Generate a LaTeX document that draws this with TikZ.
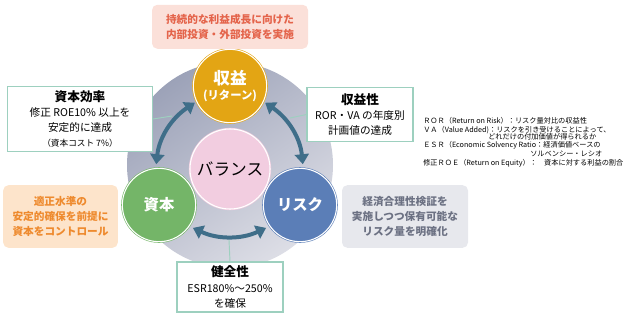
\documentclass[tikz,border=0pt]{standalone}
\usepackage{fontspec}
\setmainfont{Noto Sans CJK JP}
\usetikzlibrary{arrows.meta,positioning}
\definecolor{diskdark}{HTML}{9CA2B8}
\definecolor{disklight}{HTML}{DDDEE6}
\definecolor{retgold}{HTML}{E3A514}
\definecolor{capgreen}{HTML}{74B568}
\definecolor{riskblue}{HTML}{5B7EB7}
\definecolor{balpink}{HTML}{F2CDE0}
\definecolor{cyclecol}{HTML}{3F6E89}
\definecolor{mint}{HTML}{9DD0BF}
\definecolor{salmonbg}{HTML}{FBE0D9}
\definecolor{salmontx}{HTML}{E4644B}
\definecolor{orangebg}{HTML}{FDE4CB}
\definecolor{orangetx}{HTML}{EE8A2E}
\definecolor{graybg}{HTML}{E7E8ED}
\definecolor{graytx}{HTML}{6C7183}
\tikzset{
    ring/.style={
        circle,
        fill=#1,
        draw=#1,
        double=white,
        double distance=0.8pt,
        line width=0.45pt,
        minimum size=55pt,
        inner sep=0pt,
        align=center,
        text=white,
        font=\bfseries
    },
    goalbox/.style={
        rectangle,
        draw=mint,
        fill=white,
        line width=0.8pt,
        align=center,
        inner sep=0pt,
        font=\fontsize{8}{11.3}\selectfont
    },
    policybox/.style={
        rectangle,
        rounded corners=4pt,
        fill=#1bg,
        text=#1tx,
        align=center,
        inner sep=0pt,
        font=\bfseries\fontsize{8}{11.3}\selectfont
    },
    cyclearrow/.style={
        draw=cyclecol,
        line width=3pt,
        {Triangle[width=10.5pt,length=7.5pt]}-{Triangle[width=10.5pt,length=7.5pt]}
    },
    leader/.style={draw=mint, line width=0.7pt},
    notetext/.style={anchor=west, inner sep=0pt, font=\fontsize{5.4}{6}\selectfont}
}
\begin{document}
\begin{tikzpicture}[x=0.75pt, y=0.75pt]
    \useasboundingbox (0,0) rectangle (631,319);
    % background disk
    \shade[shading=axis, top color=diskdark, bottom color=disklight, shading angle=35] (230,154) circle[radius=103];

    % the four circles
    \node (ret) [ring=retgold] at (230,233) {{\fontsize{12.5}{14}\selectfont 収益}\\[-1pt]{\fontsize{8.5}{10}\selectfont (リターン)}};
    \node (cap) [ring=capgreen] at (159,114) {\fontsize{11.5}{13}\selectfont 資本};
    \node (risk) [ring=riskblue] at (300,114) {\fontsize{11.5}{13}\selectfont リスク};
    \node (bal) [ring=balpink, minimum size=60pt, text=black, font=\mdseries\fontsize{12.5}{14}\selectfont] at (230,150) {バランス};

    % policies and targets
    \node (growth) [policybox=salmon, minimum width=117pt, minimum height=33pt, above=0pt of ret] {持続的な利益成長に向けた\\内部投資・外部投資を実施};
    \node (eff) [goalbox, minimum width=109pt, minimum height=49pt] at (80,200) {{\bfseries\fontsize{9.5}{12}\selectfont 資本効率}\\修正 ROE10\% 以上を\\安定的に達成\\{\fontsize{6.5}{9}\selectfont （資本コスト 7\%）}};
    \node (prf) [goalbox, minimum width=79.5pt, minimum height=41pt] at (360,204.5) {{\bfseries\fontsize{9.5}{12}\selectfont 収益性}\\ROR・VA の年度別\\計画値の達成};
    \node (ctrl) [policybox=orange, minimum width=86pt, minimum height=47pt] at (60.5,102.5) {適正水準の\\安定的確保を前提に\\資本をコントロール};
    \node (snd) [goalbox, minimum width=79.5pt, minimum height=37.5pt] at (230,32) {{\bfseries\fontsize{9.5}{12}\selectfont 健全性}\\ESR180\%～250\%\\を確保};
    \node (econ) [policybox=gray, minimum width=94.5pt, minimum height=47pt] at (405,102.5) {経済合理性検証を\\実施しつつ保有可能な\\リスク量を明確化};

    % leader lines
    \coordinate (effend) at (172,203);
    \coordinate (prfend) at (290,201);
    \coordinate (sndend) at (229,79);
    \draw [leader] (eff.east) -- (effend);
    \draw [leader] (prf.west) -- (prfend);
    \draw [leader] (snd.north) -- (sndend);

    % cycle arrows
    \draw [cyclearrow, shorten <=1.5pt, shorten >=3pt] (ret.205) to[bend right=25] (cap.95);
    \draw [cyclearrow, shorten <=1.5pt, shorten >=3pt] (ret.335) to[bend left=25] (risk.85);
    \draw [cyclearrow, shorten <=3pt, shorten >=3pt] (cap.325) to[bend right=25] (risk.215);

    % notes
    \node (n1) [notetext] at (423,198) {ＲＯＲ（Return on Risk）：リスク量対比の収益性};
    \node (n2) [notetext] at (423,189) {ＶＡ（Value Added)：リスクを引き受けることによって、};
    \node (n3) [notetext] at (488,182) {どれだけの付加価値が得られるか};
    \node (n4) [notetext] at (423,174) {ＥＳＲ（Economic Solvency Ratio：経済価値ベースの};
    \node (n5) [notetext] at (530,165) {ソルベンシー・レシオ};
    \node (n6) [notetext] at (423,156) {修正ＲＯＥ（Return on Equity）：　資本に対する利益の割合};
\end{tikzpicture}
\end{document}
